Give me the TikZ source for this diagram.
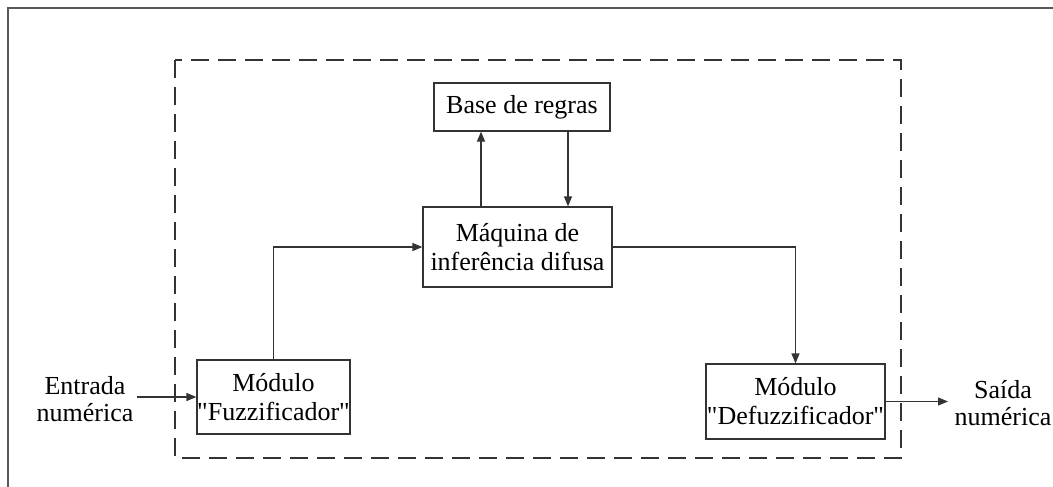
\documentclass[tikz,border=0pt]{standalone}
\usepackage{fontspec}
\setmainfont{Liberation Serif}[Ligatures=TeXOff]
\usetikzlibrary{arrows.meta}
\begin{document}
\begin{tikzpicture}[x=1pt,y=-1pt,
  line width=1.2pt,
  box/.style={draw=black!80, line width=1.2pt, inner sep=0pt, align=center, font=\fontsize{26}{29}\selectfont},
  lbl/.style={inner sep=0pt, align=center, font=\fontsize{26}{27}\selectfont},
  arr/.style={draw=black!80, -{Triangle[length=10pt,width=8pt]}}]
\useasboundingbox (0,0) rectangle (1053,487);
\draw[black!65, line width=1.5pt] (8,487) -- (8,8) -- (1053,8);
\draw[black!80, dash pattern=on 18pt off 9pt] (175,60) rectangle (901,458);
\node[box, minimum width=176pt, minimum height=48pt] (base) at (522,107) {Base de regras};
\node[box, minimum width=189pt, minimum height=80pt] (maq) at (517.5,247) {Máquina de\\inferência difusa};
\node[box, minimum width=153pt, minimum height=74pt] (fuz) at (273.5,397) {Módulo\\"Fuzzificador"};
\node[box, minimum width=179pt, minimum height=75pt] (def) at (795.5,401.5) {Módulo\\"Defuzzificador"};
\node[lbl] (ent) at (85,399) {Entrada\\numérica};
\node[lbl] (sai) at (1003,403) {Saída\\numérica};
\draw[arr] (maq.north -| 481,0) -- (base.south -| 481,0);
\draw[arr] (base.south -| 568,0) -- (maq.north -| 568,0);
\draw[arr] (fuz.north) |- (maq.west);
\draw[arr] (maq.east) -| (def.north);
\draw[arr] (ent.east |- fuz.west) ++(3,0) -- (fuz.west);
\draw[arr] (def.east) -- (948,401.5) coordinate (saiend);
\end{tikzpicture}
\end{document}
